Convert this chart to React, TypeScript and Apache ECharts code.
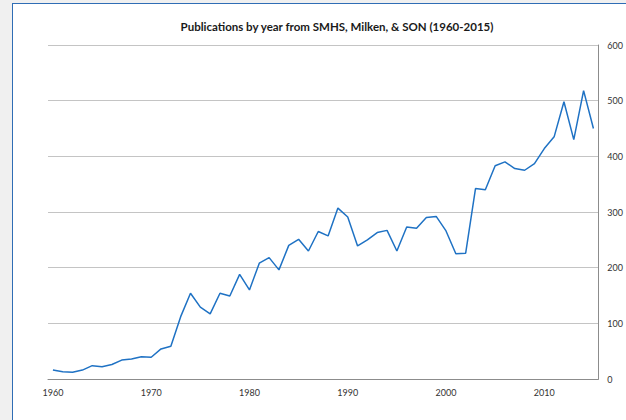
import React, { useEffect, useRef } from "react";
import * as echarts from "echarts";

const years: string[] = [];
for (let y = 1960; y <= 2015; y++) years.push(String(y));

const publications = [
  16, 13, 12, 16, 24, 22, 26, 34, 36, 40,
  39, 54, 59, 112, 154, 129, 117, 154, 149, 188,
  160, 208, 218, 196, 240, 251, 230, 265, 257, 307,
  291, 239, 250, 263, 267, 230, 273, 271, 290, 292,
  266, 225, 226, 342, 340, 383, 390, 378, 375, 387,
  414, 435, 498, 430, 518, 450,
];

const titleText = "Publications by year from SMHS, Milken, & SON (1960-2015)";
const FONT = "Lato, 'Open Sans', sans-serif";

export default function App() {
  const ref = useRef<HTMLDivElement>(null);
  useEffect(() => {
    if (!ref.current) return;
    const chart = echarts.init(ref.current, undefined, { renderer: "svg" });
    chart.setOption({
      animation: false,
      title: {
        text: titleText,
        left: 332,
        textAlign: "center",
        top: 15,
        textStyle: { fontFamily: FONT, fontSize: 11.5, fontWeight: "bold", color: "#1a1a1a" },
      },
      grid: { left: 48, right: 23.5, top: 45, bottom: 41, containLabel: false },
      xAxis: {
        type: "category",
        data: years,
        boundaryGap: true,
        axisLine: { show: true, lineStyle: { color: "#8c8c8c", width: 1 } },
        axisTick: { show: false },
        axisLabel: {
          interval: 9,
          margin: 9,
          fontFamily: FONT,
          fontSize: 9,
          color: "#333",
        },
        splitLine: { show: false },
      },
      yAxis: {
        type: "value",
        position: "right",
        min: 0,
        max: 600,
        interval: 100,
        axisLine: { show: true, lineStyle: { color: "#8c8c8c", width: 1 } },
        axisTick: { show: false },
        axisLabel: {
          margin: 9,
          fontFamily: FONT,
          fontSize: 9,
          color: "#333",
        },
        splitLine: { show: true, lineStyle: { color: "#c4c4c4", width: 1 } },
      },
      series: [
        {
          type: "line",
          data: publications,
          symbol: "none",
          lineStyle: { color: "#1f72c4", width: 1.5 },
        },
      ],
    });
    return () => chart.dispose();
  }, []);

  return (
    <div style={{ position: "fixed", left: 0, top: 0, width: 626, height: 420, background: "#f0f0f0", overflow: "hidden" }}>
      <div
        style={{
          position: "absolute",
          left: 12,
          top: 3,
          width: 640,
          height: 440,
          background: "#ffffff",
          borderLeft: "1.5px solid #2f6db5",
          borderTop: "1.5px solid #2f6db5",
        }}
      />
      <div ref={ref} style={{ position: "absolute", left: 0, top: 0, width: 626, height: 420 }} />
    </div>
  );
}
